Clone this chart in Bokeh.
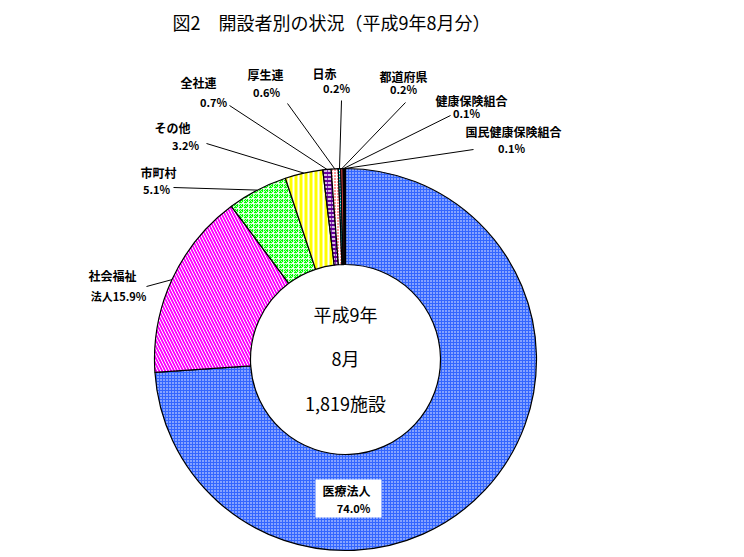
import math
from bokeh.plotting import figure
from bokeh.models import Range1d, ColumnDataSource
from bokeh.core.properties import value
from bokeh.embed import file_html
from bokeh.resources import INLINE

# ---- data ----
categories = ["医療法人", "社会福祉法人", "市町村", "その他", "全社連", "厚生連",
              "日赤", "都道府県", "健康保険組合", "国民健康保険組合"]
shares = [74.0, 15.9, 5.1, 3.2, 0.7, 0.6, 0.2, 0.2, 0.1, 0.1]
label_names = ["医療法人", "社会福祉", "市町村", "その他", "全社連", "厚生連",
               "日赤", "都道府県", "健康保険組合", "国民健康保険組合"]
label_pcts = ["74.0%", "法人15.9%", "5.1%", "3.2%", "0.7%", "0.6%",
              "0.2%", "0.2%", "0.1%", "0.1%"]
title_text = "図2　開設者別の状況（平成9年8月分）"
center_lines = ["平成9年", "8月", "1,819施設"]

# ---- styles ----
fills = ["#3366FF", "#FF00FF", "#00FF00", "#FFFF00", "#660099", "#FFFFFF",
         "#00CCCC", "#FF5050", "#FFFFFF", "#FF9999"]
hatches = ["dot", "left_diagonal_line", "criss_cross", "vertical_line",
           "horizontal_dash", "dot", "horizontal_dash", " ", " ", " "]
hatch_cols = ["white", "white", "white", "white", "white", "#FF0000",
              "white", "white", "white", "white"]
hatch_scales = [3, 6, 5, 5, 4, 3, 3, 3, 3, 3]
hatch_weights = [1.2, 1.0, 0.8, 2, 1.5, 1, 1, 1, 1, 1]

H = 557
def Y(py):
    return H - py

cx, cy = 345, Y(359)
r_out, r_in = 191, 95

total = sum(shares)
starts, ends, mids = [], [], []
acc = 0.0
for s in shares:
    a0 = acc / total * 2 * math.pi
    acc += s
    a1 = acc / total * 2 * math.pi
    starts.append(math.pi / 2 - a0)
    ends.append(math.pi / 2 - a1)
    mids.append(math.pi / 2 - (a0 + a1) / 2)

p = figure(width=744, height=557, output_backend="svg", toolbar_location=None,
           x_range=Range1d(0, 744), y_range=Range1d(0, 557), min_border=0)
p.axis.visible = False
p.grid.visible = False
p.outline_line_color = None
p.background_fill_color = "white"
p.border_fill_color = "white"

src = ColumnDataSource(dict(start=starts, end=ends, fill=fills, hatch=hatches,
                            hcol=hatch_cols, hscale=hatch_scales, hw=hatch_weights))
p.annular_wedge(x=cx, y=cy, inner_radius=r_in, outer_radius=r_out,
                start_angle="start", end_angle="end", direction="clock",
                fill_color="fill", hatch_pattern="hatch", hatch_color="hcol",
                hatch_scale="hscale", hatch_weight="hw",
                line_color="black", line_width=1.2, source=src)

# ---- labels (layout positions, pixel coords) ----
name_pos = [(346, 490), (112, 275), (158, 172), (172, 127), (198, 82),
            (265, 74), (324, 73), (403, 76), (471, 100), (513, 131)]
pct_pos = [(353, 507), (118, 295), (156, 188), (185, 144), (213, 101),
           (266, 91), (336, 87), (403, 88), (466, 112), (511, 147)]
line_start = [None, (146, 286), (173, 187), (206, 143), (229, 105),
              (287, 103), (341, 100), (405, 102), (450, 115), (473, 149)]

font = value("Noto Sans CJK JP")

# white box behind 医療法人 label
p.rect(x=[348], y=[Y(498)], width=66, height=38, fill_color="white", line_color=None)

for i in range(len(categories)):
    if line_start[i] is not None:
        ex = cx + r_out * math.cos(mids[i])
        ey = cy + r_out * math.sin(mids[i])
        sx, sy = line_start[i]
        p.line([sx, ex], [Y(sy), ey], line_color="black", line_width=1)

p.text(x=[q[0] for q in name_pos], y=[Y(q[1]) for q in name_pos], text=label_names,
       text_font=font, text_font_style="bold", text_font_size="12px",
       text_align="center", text_baseline="middle", text_color="black")
p.text(x=[q[0] for q in pct_pos], y=[Y(q[1]) for q in pct_pos], text=label_pcts,
       text_font=font, text_font_style="bold", text_font_size="11px",
       text_align="center", text_baseline="middle", text_color="black")

# center text
p.text(x=[cx, cx, cx], y=[Y(313), Y(357), Y(402)], text=center_lines,
       text_font=font, text_font_size="18px", text_align="center",
       text_baseline="middle", text_color="black")

# title
p.text(x=[331], y=[Y(21)], text=[title_text], text_font=font,
       text_font_style="normal", text_font_size="18px", text_align="center",
       text_baseline="middle", text_color="black")

open("out.html", "w").write(file_html(p, INLINE))
